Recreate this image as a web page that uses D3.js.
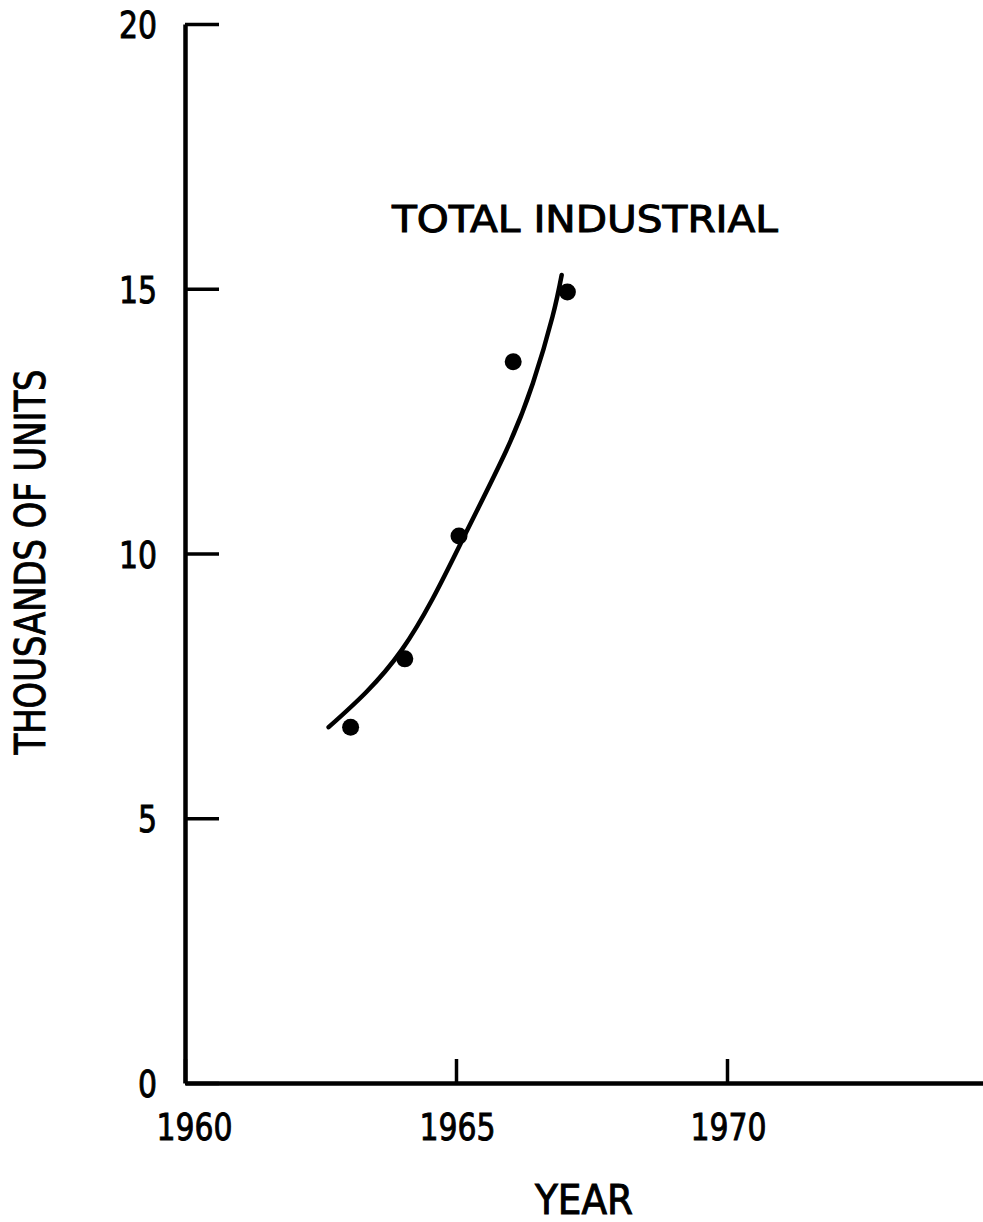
<!DOCTYPE html>
<html>
<head>
<meta charset="utf-8">
<script src="https://cdn.jsdelivr.net/npm/d3@7"></script>
<style>
  body { margin: 0; background: #fff; }
  text { font-family: "DejaVu Sans Condensed", "DejaVu Sans", sans-serif; fill: #000; stroke: #000; stroke-width: 0.9px; }
</style>
</head>
<body>
<div id="chart"></div>
<script>
// observed points (year, thousands of units)
var years = [1963, 1964, 1965, 1966, 1967];
var units = [6.72, 8.01, 10.33, 13.62, 14.94];

// fitted curve
var curveYears = [1962.65, 1964.0, 1965.12, 1965.93, 1966.42, 1966.78, 1966.95];
var curveUnits = [6.72, 8.18, 10.26, 11.95, 13.22, 14.47, 15.26];

var xTicks = [1960, 1965, 1970];
var yTicks = [0, 5, 10, 15, 20];

var width = 983, height = 1222;

var svg = d3.select("#chart")
    .append("svg")
        .attr("width", width)
        .attr("height", height);

var x = d3.scaleLinear().domain([1960, 1975]).range([185, 998]);
var y = d3.scaleLinear().domain([0, 20]).range([1083, 24]);

// axes
var xAxis = svg.append("g")
    .attr("transform", "translate(0," + y(0) + ")")
    .call(d3.axisBottom(x).tickValues(xTicks).tickFormat(d3.format("d"))
        .tickSize(-24).tickSizeOuter(0).tickPadding(30));

var yAxis = svg.append("g")
    .attr("transform", "translate(" + x(1960) + ",0)")
    .call(d3.axisLeft(y).tickValues(yTicks)
        .tickSize(-34).tickSizeOuter(0).tickPadding(28));

[xAxis, yAxis].forEach(function(g) {
    g.select(".domain").attr("stroke", "#000").attr("stroke-width", 4.5);
    g.selectAll(".tick line").attr("stroke", "#000").attr("stroke-width", 3.5);
    g.selectAll(".tick text")
        .style("font-family", '"DejaVu Sans Condensed", "DejaVu Sans", sans-serif')
        .attr("font-size", 38)
        .attr("fill", "#000")
        .attr("stroke", "#000")
        .attr("stroke-width", 0.9)
        .attr("textLength", function(d) { return String(d).length * 19; })
        .attr("lengthAdjust", "spacingAndGlyphs");
});
// first year label sits a little right of the corner
xAxis.selectAll(".tick text").attr("dx", function(d) { return d == 1960 ? 9 : 1; });
yAxis.selectAll(".tick text").attr("dy", "0.36em");

// fitted curve
var curve = curveYears.map(function(d, i) { return [d, curveUnits[i]]; });
svg.append("path")
    .datum(curve)
    .attr("fill", "none")
    .attr("stroke", "#000")
    .attr("stroke-width", 4.5)
    .attr("stroke-linecap", "round")
    .attr("d", d3.line()
        .x(function(d) { return x(d[0]); })
        .y(function(d) { return y(d[1]); })
        .curve(d3.curveNatural));

// points
svg.selectAll("dot")
    .data(years)
    .enter()
    .append("circle")
        .attr("r", 8.5)
        .attr("cx", function(d) { return x(d) + 3; })
        .attr("cy", function(d, i) { return y(units[i]); })
        .attr("fill", "#000");

// labels
svg.append("text")
    .attr("x", 585)
    .attr("y", 232)
    .attr("text-anchor", "middle")
    .attr("font-size", 37)
    .attr("textLength", 386)
    .attr("lengthAdjust", "spacingAndGlyphs")
    .text("TOTAL INDUSTRIAL");

svg.append("text")
    .attr("x", 584)
    .attr("y", 1214)
    .attr("text-anchor", "middle")
    .attr("font-size", 40)
    .attr("textLength", 98)
    .attr("lengthAdjust", "spacingAndGlyphs")
    .text("YEAR");

svg.append("text")
    .attr("transform", "translate(45,562) rotate(-90)")
    .attr("text-anchor", "middle")
    .attr("font-size", 43)
    .attr("textLength", 385)
    .attr("lengthAdjust", "spacingAndGlyphs")
    .text("THOUSANDS OF UNITS");
</script>
</body>
</html>
